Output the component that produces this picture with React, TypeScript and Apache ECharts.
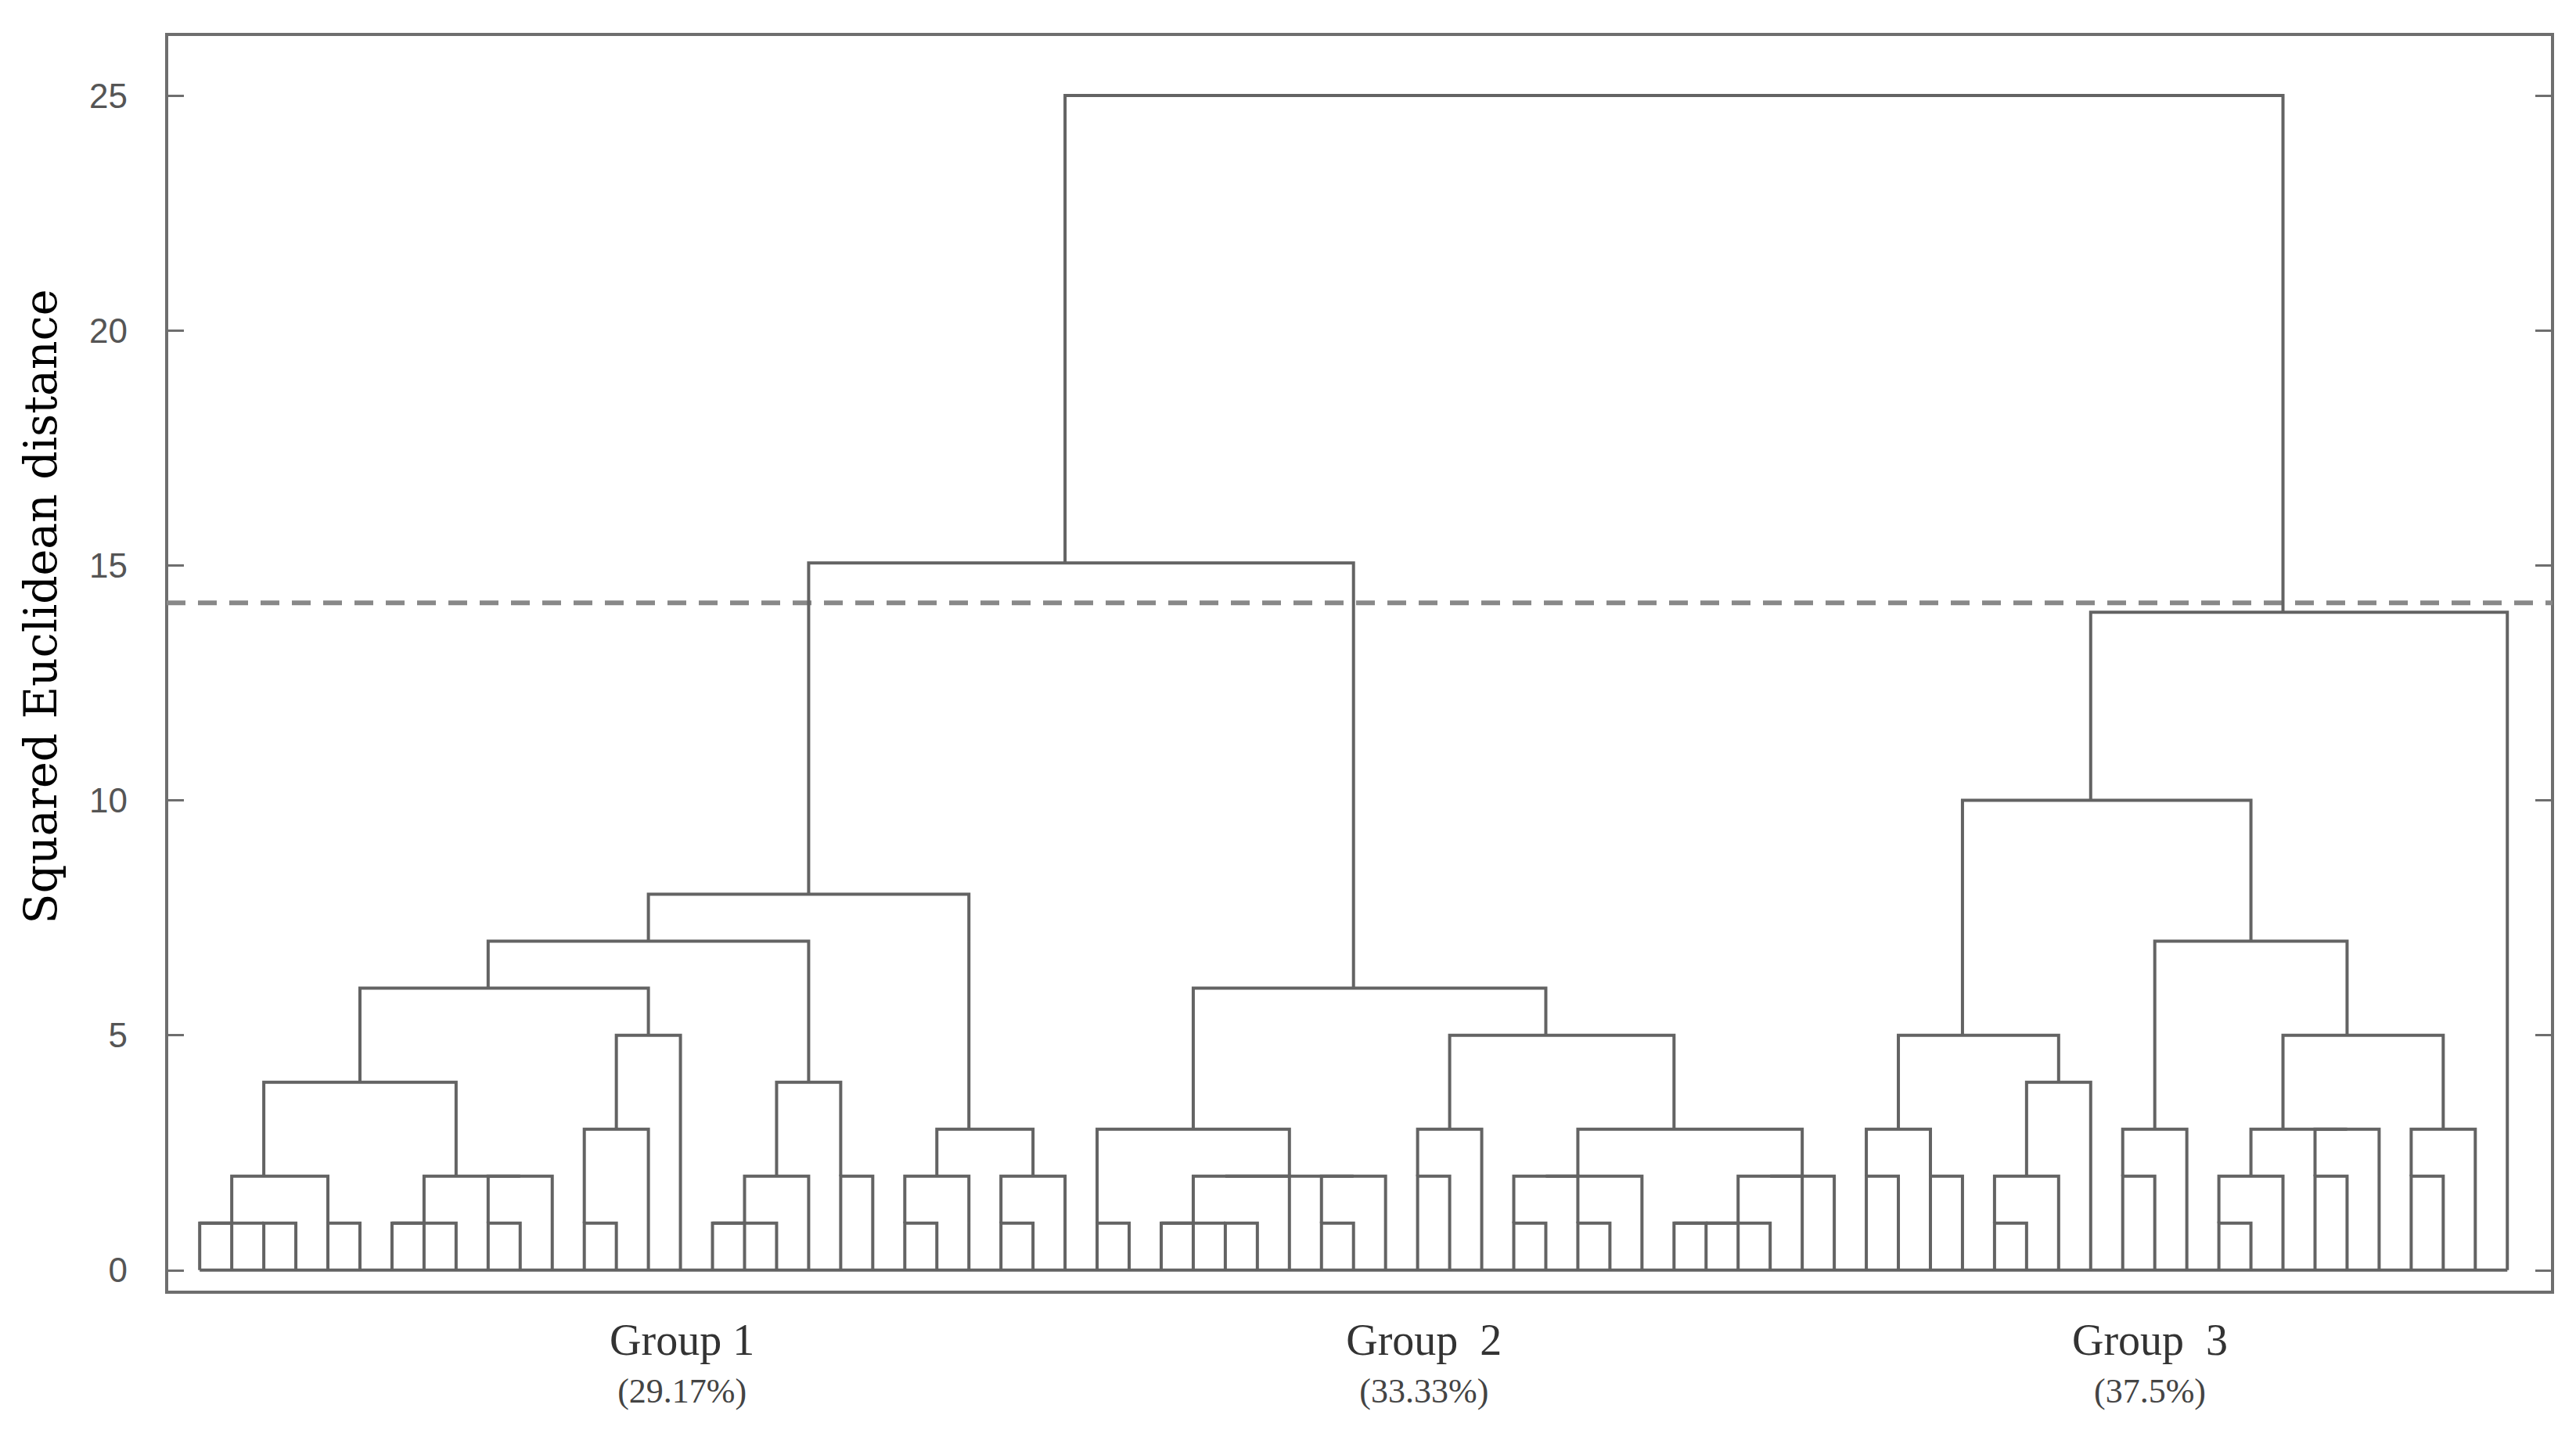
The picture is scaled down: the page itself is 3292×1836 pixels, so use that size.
import React, { useEffect, useRef } from "react";
import * as echarts from "echarts";

type Node = number | [Node, Node, number];

// Leaves are numbered 0..72 from left to right; a merge is [left, right, height].
const group1Tree: Node = [
  [
    [
      [
        [[[0, 1, 1], [2, 3, 1], 1], [4, 5, 1], 2],
        [[[6, 7, 1], 8, 1], [[9, 10, 1], 11, 2], 2],
        4,
      ],
      [[[12, 13, 1], 14, 3], 15, 5],
      6,
    ],
    [[[[16, 17, 1], 18, 1], 19, 2], [20, 21, 2], 4],
    7,
  ],
  [[[22, 23, 1], 24, 2], [[25, 26, 1], 27, 2], 3],
  8,
];

const group2Tree: Node = [
  [
    [28, 29, 1],
    [
      [[[30, 31, 1], [32, 33, 1], 1], 34, 2],
      [[35, 36, 1], 37, 2],
      2,
    ],
    3,
  ],
  [
    [[38, 39, 2], 40, 3],
    [
      [[[41, 42, 1], [43, 44, 1], 2], 45, 2],
      [[[[[46, 47, 1], 48, 1], 49, 1], 50, 2], 51, 2],
      3,
    ],
    5,
  ],
  6,
];

const group3Tree: Node = [
  [
    [[[52, 53, 2], [54, 55, 2], 3], [[[56, 57, 1], 58, 2], 59, 4], 5],
    [
      [[60, 61, 2], 62, 3],
      [
        [[[63, 64, 1], 65, 2], [[66, 67, 2], 68, 3], 3],
        [[69, 70, 2], 71, 3],
        5,
      ],
      7,
    ],
    10,
  ],
  72,
  14,
];

const groups12Height = 15.05;
const rootHeight = 25;
const cutHeight = 14.2;
const leafCount = 73;

const yTickValues = [0, 5, 10, 15, 20, 25];
const groupNames = ["Group 1", "Group  2", "Group  3"];
const groupShares = ["(29.17%)", "(33.33%)", "(37.5%)"];
const groupCenters = [15.05, 38.2, 60.85];

const X_MIN = -1.03;
const X_MAX = 73.41;
const Y_MIN = -0.47;
const Y_MAX = 26.3;

const dendrogram: Node = [[group1Tree, group2Tree, groups12Height], group3Tree, rootHeight];

function layout(node: Node, segs: number[][]): { x: number; h: number } {
  if (typeof node === "number") return { x: node, h: 0 };
  const a = layout(node[0], segs);
  const b = layout(node[1], segs);
  const h = node[2];
  segs.push([a.x, a.h, b.x, b.h, h]);
  return { x: Math.floor((a.x + b.x) / 2), h };
}

const LINE = "#636363";

export default function App() {
  const ref = useRef<HTMLDivElement>(null);
  useEffect(() => {
    document.body.style.margin = "0";
    const chart = echarts.init(ref.current!, null, { renderer: "svg" });
    const segs: number[][] = [];
    layout(dendrogram, segs);
    const labelData = groupCenters.map((c, i) => [c, Y_MIN, i]);

    chart.setOption({
      animation: false,
      backgroundColor: "#ffffff",
      grid: {
        left: 213,
        right: 30,
        top: 44,
        bottom: 185,
        show: true,
        borderColor: "#6e6e6e",
        borderWidth: 4,
        backgroundColor: "transparent",
      },
      xAxis: { type: "value", min: X_MIN, max: X_MAX, show: false },
      yAxis: [
        {
          type: "value",
          min: Y_MIN,
          max: Y_MAX,
          position: "left",
          axisLine: { show: true, onZero: false, lineStyle: { color: "#6e6e6e", width: 4 } },
          axisTick: {
            show: true,
            inside: true,
            length: 22,
            customValues: yTickValues,
            lineStyle: { color: "#6e6e6e", width: 3 },
          },
          axisLabel: {
            show: true,
            customValues: yTickValues,
            margin: 50,
            fontSize: 44,
            color: "#555555",
            fontFamily: "Liberation Sans",
          },
          splitLine: { show: false },
        },
        {
          type: "value",
          min: Y_MIN,
          max: Y_MAX,
          position: "right",
          axisLine: { show: true, onZero: false, lineStyle: { color: "#6e6e6e", width: 4 } },
          axisTick: {
            show: true,
            inside: true,
            length: 22,
            customValues: yTickValues,
            lineStyle: { color: "#6e6e6e", width: 3 },
          },
          axisLabel: { show: false },
          splitLine: { show: false },
        },
      ],
      graphic: [
        {
          type: "text",
          x: 52,
          y: 775,
          rotation: Math.PI / 2,
          style: {
            text: "Squared Euclidean distance",
            fontSize: 57,
            fontFamily: "DejaVu Serif",
            fill: "#000000",
            textAlign: "center",
            textVerticalAlign: "middle",
            align: "center",
            verticalAlign: "middle",
          },
        },
      ],
      series: [
        {
          type: "line",
          data: [
            [X_MIN, cutHeight],
            [X_MAX, cutHeight],
          ],
          symbol: "none",
          silent: true,
          z: 2,
          lineStyle: { color: "#888888", width: 6, type: [24, 16] },
        },
        {
          type: "line",
          data: [
            [0, 0],
            [leafCount - 1, 0],
          ],
          symbol: "none",
          silent: true,
          z: 3,
          lineStyle: { color: LINE, width: 4 },
        },
        {
          type: "custom",
          coordinateSystem: "cartesian2d",
          silent: true,
          z: 4,
          clip: false,
          data: segs,
          encode: { x: [0, 2], y: [1, 3, 4] },
          renderItem: (params: any, api: any) => {
            const xa = api.value(0);
            const ha = api.value(1);
            const xb = api.value(2);
            const hb = api.value(3);
            const h = api.value(4);
            return {
              type: "polyline",
              shape: {
                points: [api.coord([xa, ha]), api.coord([xa, h]), api.coord([xb, h]), api.coord([xb, hb])],
              },
              style: { stroke: LINE, lineWidth: 4, fill: "none", lineJoin: "miter" },
            };
          },
        },
        {
          type: "custom",
          coordinateSystem: "cartesian2d",
          silent: true,
          clip: false,
          data: labelData,
          encode: { x: 0, y: 1 },
          renderItem: (params: any, api: any) => {
            const p = api.coord([api.value(0), api.value(1)]);
            const i = api.value(2);
            return {
              type: "group",
              children: [
                {
                  type: "text",
                  x: p[0],
                  y: p[1] + 61,
                  style: {
                    text: groupNames[i],
                    fontSize: 56,
                    fontFamily: "Liberation Serif",
                    fill: "#333333",
                    textAlign: "center",
                    textVerticalAlign: "middle",
                    align: "center",
                    verticalAlign: "middle",
                  },
                },
                {
                  type: "text",
                  x: p[0],
                  y: p[1] + 126,
                  style: {
                    text: groupShares[i],
                    fontSize: 44,
                    fontFamily: "Liberation Serif",
                    fill: "#444444",
                    textAlign: "center",
                    textVerticalAlign: "middle",
                    align: "center",
                    verticalAlign: "middle",
                  },
                },
              ],
            };
          },
        },
      ],
    });
    return () => chart.dispose();
  }, []);
  return (
    <div
      ref={ref}
      style={{ position: "fixed", left: 0, top: 0, width: "3292px", height: "1836px", background: "#fff" }}
    />
  );
}
